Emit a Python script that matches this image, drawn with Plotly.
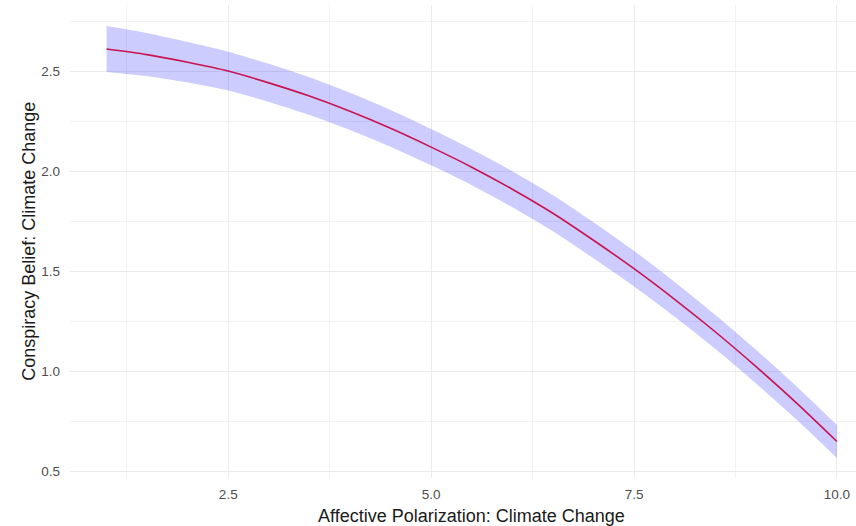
import plotly.graph_objects as go

# Predicted conspiracy belief across affective polarization, with confidence band
polarization = [1.0, 1.5, 2.0, 2.5, 3.0, 3.5, 4.0, 4.5, 5.0, 5.5,
                6.0, 6.5, 7.0, 7.5, 8.0, 8.5, 9.0, 9.5, 10.0]
predicted = [2.610, 2.582, 2.544, 2.500, 2.441, 2.375, 2.299, 2.214, 2.120, 2.020,
             1.910, 1.790, 1.655, 1.513, 1.360, 1.198, 1.025, 0.843, 0.650]
upper = [2.725, 2.690, 2.645, 2.597, 2.536, 2.469, 2.392, 2.306, 2.211, 2.110,
         2.000, 1.880, 1.745, 1.602, 1.447, 1.283, 1.109, 0.926, 0.732]
lower = [2.495, 2.474, 2.443, 2.403, 2.346, 2.281, 2.206, 2.122, 2.029, 1.930,
         1.820, 1.700, 1.565, 1.424, 1.273, 1.113, 0.941, 0.760, 0.568]

x_ticks = [2.5, 5.0, 7.5, 10.0]
x_tick_labels = ["2.5", "5.0", "7.5", "10.0"]
y_ticks = [0.5, 1.0, 1.5, 2.0, 2.5]
y_tick_labels = ["0.5", "1.0", "1.5", "2.0", "2.5"]

FONT = "Liberation Sans, Arial, sans-serif"
GRID = "#EBEBEB"

fig = go.Figure()

# confidence ribbon: upper edge, then lower edge reversed
fig.add_trace(go.Scatter(
    x=polarization,
    y=lower,
    mode="lines",
    line=dict(width=0, shape="spline", smoothing=0.8),
    hoverinfo="skip",
    showlegend=False,
))
fig.add_trace(go.Scatter(
    x=polarization,
    y=upper,
    mode="lines",
    fill="tonexty",
    fillcolor="rgba(0,0,255,0.2)",
    line=dict(width=0, shape="spline", smoothing=0.8),
    hoverinfo="skip",
    showlegend=False,
))

# fitted line
fig.add_trace(go.Scatter(
    x=polarization,
    y=predicted,
    mode="lines",
    line=dict(color="#C81450", width=1.6, shape="spline", smoothing=0.8),
    showlegend=False,
))

fig.update_layout(
    width=856,
    height=526,
    margin=dict(l=70, r=0, t=5, b=48),
    paper_bgcolor="white",
    plot_bgcolor="white",
    font=dict(family=FONT, color="#4D4D4D", size=13),
    xaxis=dict(
        range=[0.55, 10.235],
        tickvals=x_ticks,
        ticktext=x_tick_labels,
        showgrid=True,
        gridcolor=GRID,
        gridwidth=1.2,
        zeroline=False,
        showline=False,
        ticks="",
        ticklabelstandoff=6,
        tickfont=dict(size=13.5, color="#4D4D4D"),
        minor=dict(dtick=1.25, tick0=0, showgrid=True, gridcolor="#F2F2F2", gridwidth=0.8),
    ),
    yaxis=dict(
        range=[0.4675, 2.83],
        tickvals=y_ticks,
        ticktext=y_tick_labels,
        showgrid=True,
        gridcolor=GRID,
        gridwidth=1.2,
        zeroline=False,
        showline=False,
        ticks="",
        ticklabelstandoff=9,
        tickfont=dict(size=13.5, color="#4D4D4D"),
        minor=dict(dtick=0.25, tick0=0, showgrid=True, gridcolor="#F2F2F2", gridwidth=0.8),
    ),
    annotations=[
        dict(
            text="Affective Polarization: Climate Change",
            xref="paper", yref="paper",
            x=0.5104, y=-0.0794,
            xanchor="center", yanchor="middle",
            showarrow=False,
            font=dict(family=FONT, size=18, color="#1A1A1A"),
        ),
        dict(
            text="Conspiracy Belief: Climate Change",
            xref="paper", yref="paper",
            x=-0.053, y=0.5,
            xanchor="center", yanchor="middle",
            textangle=-90,
            showarrow=False,
            font=dict(family=FONT, size=18, color="#1A1A1A"),
        ),
    ],
)

fig.write_html("out.html")
